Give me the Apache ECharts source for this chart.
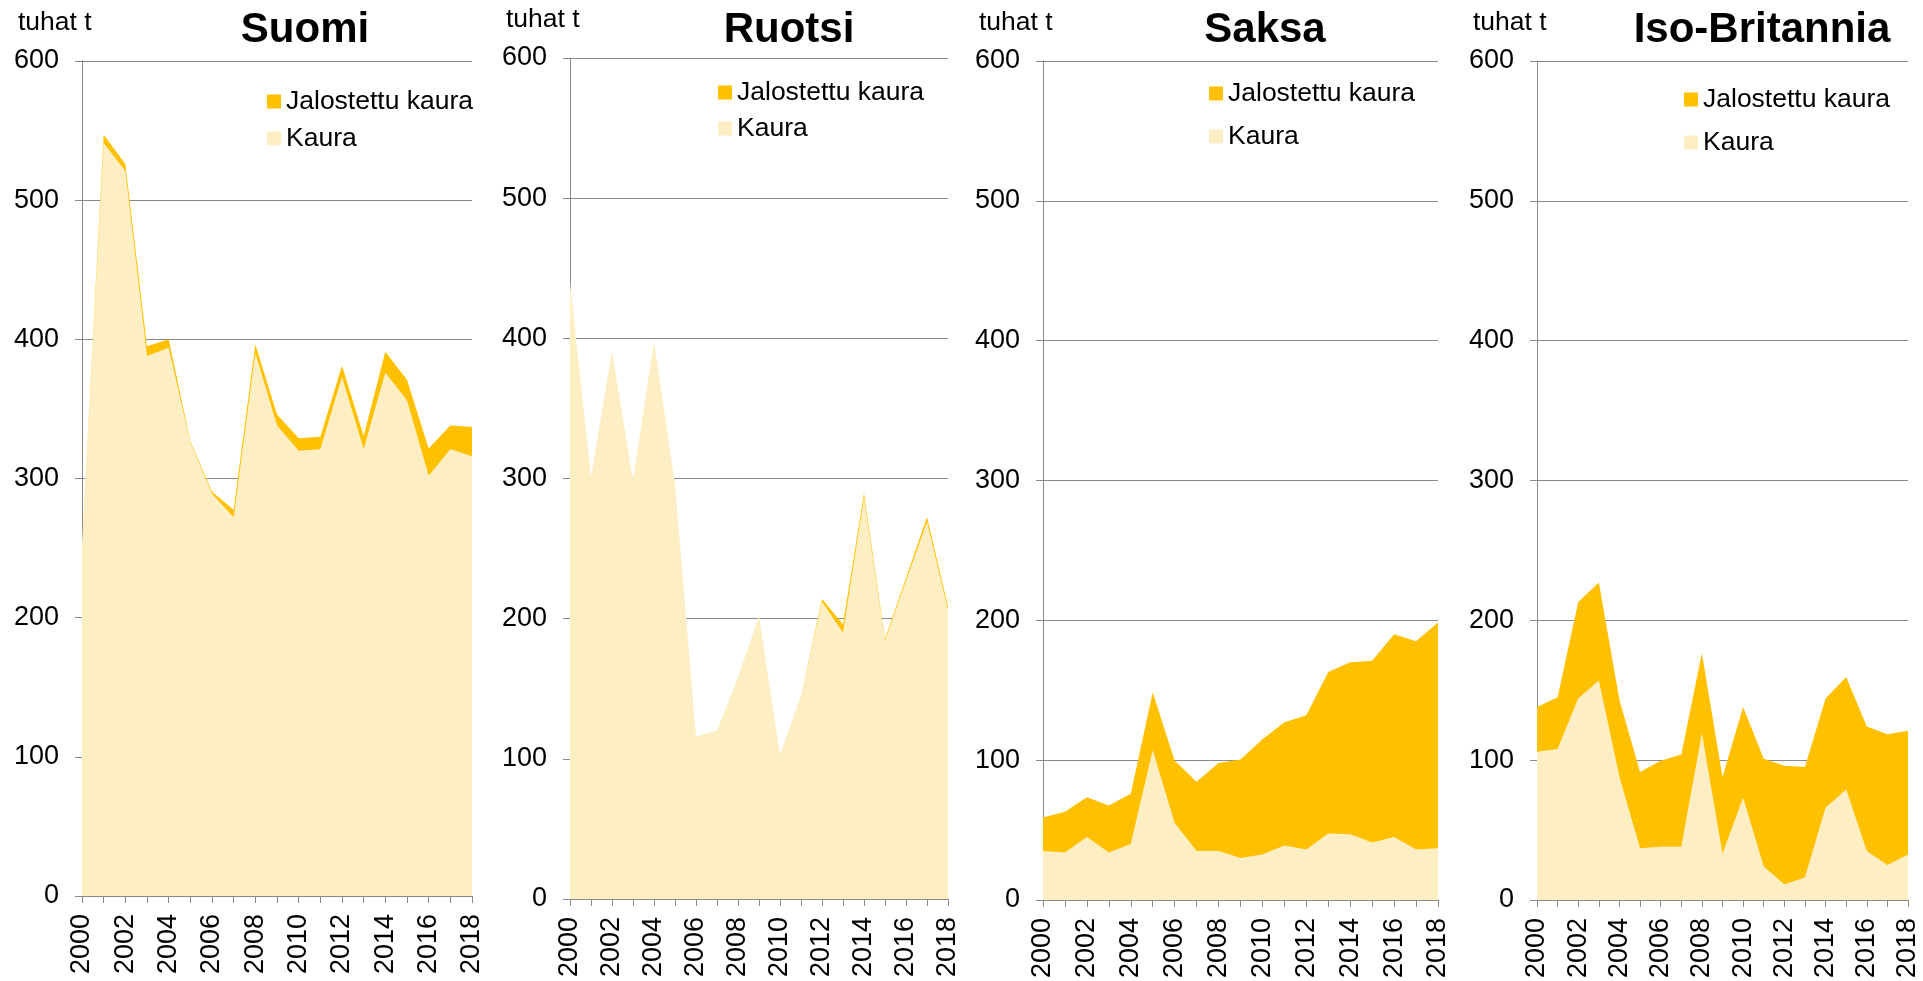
<!DOCTYPE html>
<html>
<head>
<meta charset="utf-8">
<title>Kaura ja jalostettu kaura</title>
<script src="https://cdn.jsdelivr.net/npm/echarts@6/dist/echarts.min.js"></script>
<style>
    html, body { margin: 0; padding: 0; background: #fff; }
    #chart { width: 1923px; height: 981px; }
</style>
</head>
<body>
<div id="chart"></div>
<script>
    // vuodet (x-akseli)
    var years = ['2000', '2001', '2002', '2003', '2004', '2005', '2006', '2007', '2008', '2009',
        '2010', '2011', '2012', '2013', '2014', '2015', '2016', '2017', '2018'];

    var yTicks = [0, 100, 200, 300, 400, 500, 600];

    // tuhat t
    var suomiKaura = [253, 541, 521, 388, 394, 326, 289, 272, 390, 338, 320, 321, 373, 321, 376, 356, 302, 321, 316];
    var suomiJalostettu = [0, 6, 5, 7, 6, 1, 1.5, 5.5, 6.5, 8, 9, 9, 8, 9.5, 15, 15, 19.5, 17, 21];

    var ruotsiKaura = [440, 301, 391, 299, 398, 296, 116, 120, 158, 202, 103, 145, 212, 190, 286, 184, 227, 269, 206];
    var ruotsiJalostettu = [0, 0, 0, 0, 0, 0, 0, 0, 0, 0, 0, 0, 2, 6, 3.5, 1.5, 2, 3.5, 2.5];

    var saksaKaura = [35, 34, 45, 34, 40, 107, 55, 35, 35, 30, 32.5, 39, 36, 47.5, 47, 41, 45, 36, 37];
    var saksaJalostettu = [24, 29, 28.5, 33.5, 36, 41.5, 44.5, 49.5, 63, 70.5, 82.5, 88, 96, 115.5, 123, 130, 145, 149, 161.5];

    var britKaura = [106, 108, 144, 157, 88, 37, 38, 38, 119, 33, 73, 24, 11, 16, 66, 79, 35, 25, 32.5];
    var britJalostettu = [32, 37, 69, 70, 55, 54.5, 61.5, 66, 57.5, 55, 65, 77, 85, 79, 78, 80.5, 89, 93.5, 88.5];

    var FONT = '"Liberation Sans", Arial, sans-serif';
    var GREY = '#8a8a8a';
    var DARK = '#FFC000';
    var LIGHT = '#FDEFC3';

    // paneelit: otsikko, data, sijainti
    var panels = [
        {title: 'Suomi', kaura: suomiKaura, jal: suomiJalostettu, left: 82, top: 61, width: 390, height: 835, titleX: 305, legendX: 267, legendY: 88, legendGap: 10},
        {title: 'Ruotsi', kaura: ruotsiKaura, jal: ruotsiJalostettu, left: 570, top: 58, width: 378, height: 841, titleX: 789, legendX: 718, legendY: 79, legendGap: 9},
        {title: 'Saksa', kaura: saksaKaura, jal: saksaJalostettu, left: 1043, top: 61, width: 395, height: 842, titleX: 1265, legendX: 1209, legendY: 80, legendGap: 16},
        {title: 'Iso-Britannia', kaura: britKaura, jal: britJalostettu, left: 1537, top: 61, width: 371, height: 842, titleX: 1762, legendX: 1684, legendY: 86, legendGap: 16}
    ];

    var option = {
        backgroundColor: '#fff',
        animation: false,
        textStyle: {fontFamily: FONT},
        title: [],
        legend: [],
        grid: [],
        xAxis: [],
        yAxis: [],
        series: []
    };

    panels.forEach(function (p, i) {
        option.title.push({
            text: p.title,
            left: p.titleX,
            top: 9,
            textAlign: 'center',
            padding: 0,
            textStyle: {fontFamily: FONT, fontSize: 42, fontWeight: 'bold', color: '#000'}
        });
        option.legend.push({
            orient: 'vertical',
            left: p.legendX,
            top: p.legendY,
            icon: 'rect',
            itemWidth: 14,
            itemHeight: 14,
            itemGap: p.legendGap,
            padding: 0,
            data: ['Jalostettu kaura', 'Kaura'],
            textStyle: {fontFamily: FONT, fontSize: 26.5, color: '#000', lineHeight: 26}
        });
        option.grid.push({left: p.left, top: p.top, width: p.width, height: p.height, containLabel: false});
        option.xAxis.push({
            type: 'category',
            gridIndex: i,
            data: years,
            boundaryGap: false,
            axisLine: {lineStyle: {color: GREY, width: 1}},
            axisTick: {show: true, interval: 0, length: 7, lineStyle: {color: GREY}},
            axisLabel: {interval: 1, rotate: 90, margin: 18, fontSize: 27, color: '#000', fontFamily: FONT},
            splitLine: {show: false}
        });
        option.yAxis.push({
            type: 'value',
            gridIndex: i,
            min: 0,
            max: yTicks[yTicks.length - 1],
            interval: 100,
            name: 'tuhat t',
            nameLocation: 'end',
            nameGap: 25,
            nameTextStyle: {fontFamily: FONT, fontSize: 26.5, color: '#000', align: 'left', padding: [0, 0, 0, -64]},
            axisLine: {show: true, lineStyle: {color: GREY, width: 1}},
            axisTick: {show: true, length: 7, lineStyle: {color: GREY}},
            axisLabel: {margin: 23, fontSize: 27, color: '#000', fontFamily: FONT},
            splitLine: {show: true, lineStyle: {color: GREY, width: 1}}
        });
        // Kaura alimpana, jalostettu päälle
        option.series.push({
            name: 'Kaura',
            type: 'line',
            xAxisIndex: i,
            yAxisIndex: i,
            stack: 'p' + i,
            data: p.kaura,
            symbol: 'none',
            itemStyle: {color: LIGHT},
            lineStyle: {width: 0, color: LIGHT},
            areaStyle: {color: LIGHT, opacity: 1}
        });
        option.series.push({
            name: 'Jalostettu kaura',
            type: 'line',
            xAxisIndex: i,
            yAxisIndex: i,
            stack: 'p' + i,
            data: p.jal,
            symbol: 'none',
            itemStyle: {color: DARK},
            lineStyle: {width: 0, color: DARK},
            areaStyle: {color: DARK, opacity: 1}
        });
    });

    var chart = echarts.init(document.getElementById('chart'));
    chart.setOption(option);
</script>
</body>
</html>
